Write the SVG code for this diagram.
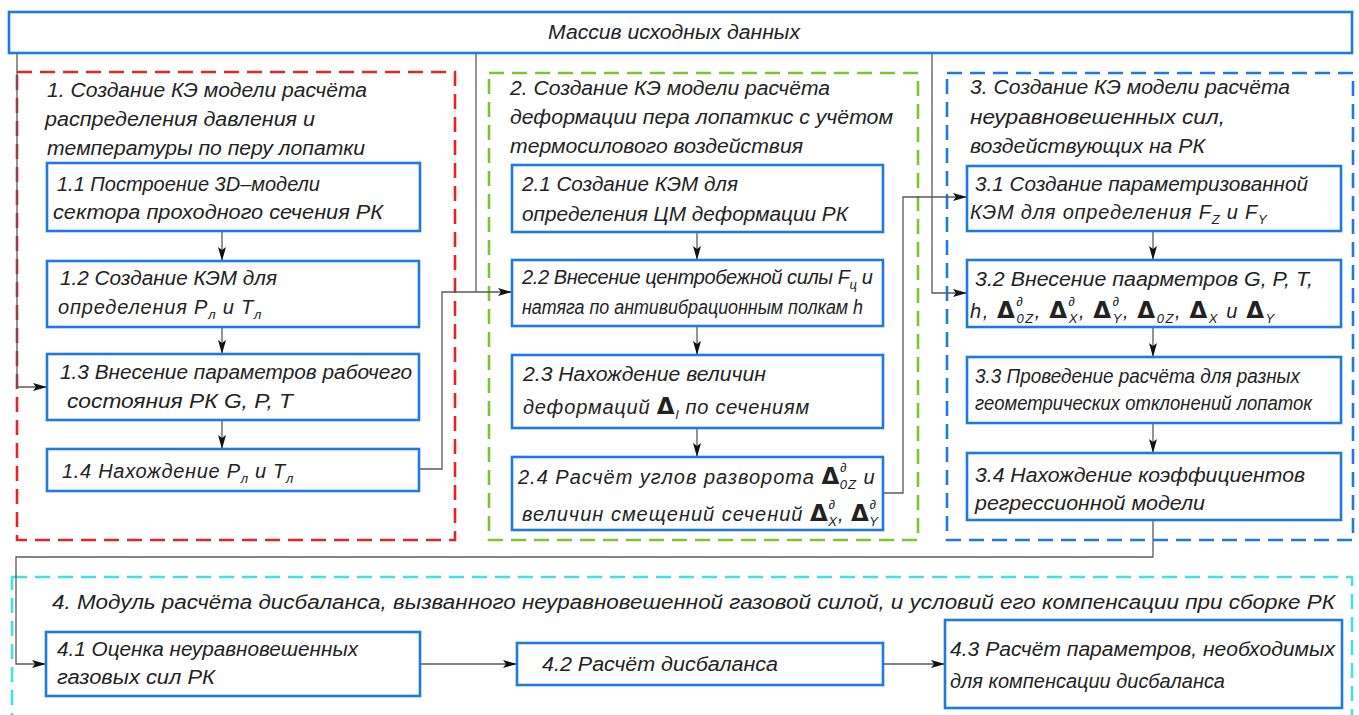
<svg xmlns="http://www.w3.org/2000/svg" width="1359" height="715" viewBox="0 0 1359 715">
<style>
.bg{fill:#ffffff}
.box{fill:#ffffff;stroke:#1f7ae0;stroke-width:2.6}
.grp{fill:none;stroke-width:2.6;stroke-dasharray:15 8}
.red{stroke:#e3242b}
.green{stroke:#7dc52e}
.blue{stroke:#1f7ae0}
.cyan{stroke:#45e0e4}
.t{font-family:"Liberation Sans",Arial,sans-serif;font-style:italic;font-size:20px;fill:#222222}
.d{font-family:"DejaVu Sans","Liberation Sans",sans-serif;font-style:normal;font-weight:bold;font-size:23px}
.sb{font-size:13px}
.con{fill:none;stroke:#5a5a5a;stroke-width:1.3}
.arr{fill:none;stroke:#5a5a5a;stroke-width:1.3;marker-end:url(#ah)}
</style>
<defs>
<marker id="ah" markerUnits="userSpaceOnUse" markerWidth="16" markerHeight="10" refX="14" refY="4" orient="auto">
<path d="M0,0 L14,4 L0,8 L3,4 Z" fill="#111111"/>
</marker>
</defs>
<rect class="bg" x="0" y="0" width="1359" height="715"/>

<g id="groups">
<rect id="g1" class="grp red" x="17" y="72" width="438" height="468"/>
<rect id="g2" class="grp green" x="489" y="73" width="429" height="467"/>
<rect id="g3" class="grp blue" x="947" y="73" width="406" height="467"/>
<rect id="g4" class="grp cyan" x="12" y="577" width="1340" height="150"/>
</g>

<g id="connectors">
<path class="arr" d="M17,53 V387 H47"/>
<path class="con" d="M476,53 V292"/>
<path class="arr" d="M420,469 H442 V292 H512"/>
<path class="arr" d="M932,53 V293 H967"/>
<path class="arr" d="M883,493 H903 V197 H967"/>
<path class="arr" d="M222,231 V261"/>
<path class="arr" d="M222,327 V354"/>
<path class="arr" d="M222,420 V449"/>
<path class="arr" d="M697,232 V260"/>
<path class="arr" d="M697,326 V355"/>
<path class="arr" d="M697,428 V457"/>
<path class="arr" d="M1153,231 V260"/>
<path class="arr" d="M1153,327 V357"/>
<path class="arr" d="M1153,423 V453"/>
<path class="arr" d="M1153,520 V557 H16 V664 H46"/>
<path class="arr" d="M420,664 H517"/>
<path class="arr" d="M883,664 H945"/>
</g>

<g id="top">
<rect class="box" x="9" y="12" width="1343" height="41"/>
<text class="t" x="548" y="39" textLength="252" lengthAdjust="spacingAndGlyphs">Массив исходных данных</text>
</g>

<g id="h1">
<text class="t" x="47" y="97" textLength="320" lengthAdjust="spacingAndGlyphs">1. Создание КЭ модели расчёта</text>
<text class="t" x="45" y="126" textLength="270" lengthAdjust="spacingAndGlyphs">распределения давления и</text>
<text class="t" x="47" y="155" textLength="318" lengthAdjust="spacingAndGlyphs">температуры по перу лопатки</text>
</g>
<g id="n11">
<rect class="box" x="47" y="163" width="373" height="68"/>
<text class="t" x="57" y="191" textLength="263" lengthAdjust="spacingAndGlyphs">1.1 Построение 3D–модели</text>
<text class="t" x="53" y="219" textLength="330" lengthAdjust="spacingAndGlyphs">сектора проходного сечения РК</text>
</g>
<g id="n12">
<rect class="box" x="47" y="261" width="372" height="66"/>
<text class="t" x="60" y="285" textLength="217" lengthAdjust="spacingAndGlyphs">1.2 Создание КЭМ для</text>
<text class="t" x="58" y="314" letter-spacing="0.8">определения P<tspan class="sb" dy="5">л</tspan><tspan dy="-5">  и  T</tspan><tspan class="sb" dy="5">л</tspan></text>
</g>
<g id="n13">
<rect class="box" x="47" y="354" width="372" height="66"/>
<text class="t" x="60" y="379" textLength="352" lengthAdjust="spacingAndGlyphs">1.3 Внесение параметров рабочего</text>
<text class="t" x="67" y="408" textLength="226" lengthAdjust="spacingAndGlyphs">состояния  РК G, P, T</text>
</g>
<g id="n14">
<rect class="box" x="47" y="449" width="372" height="42"/>
<text class="t" x="62" y="478" letter-spacing="0.7">1.4 Нахождение P<tspan class="sb" dy="5">л</tspan><tspan dy="-5">  и  T</tspan><tspan class="sb" dy="5">л</tspan></text>
</g>

<g id="h2">
<text class="t" x="510" y="95" textLength="320" lengthAdjust="spacingAndGlyphs">2. Создание КЭ модели расчёта</text>
<text class="t" x="510" y="124" textLength="383" lengthAdjust="spacingAndGlyphs">деформации пера лопаткис с учётом</text>
<text class="t" x="510" y="153" textLength="293" lengthAdjust="spacingAndGlyphs">термосилового воздействия</text>
</g>
<g id="n21">
<rect class="box" x="512" y="165" width="371" height="67"/>
<text class="t" x="522" y="191" textLength="216" lengthAdjust="spacingAndGlyphs">2.1 Создание КЭМ для</text>
<text class="t" x="522" y="221" textLength="326" lengthAdjust="spacingAndGlyphs">определения ЦМ деформации РК</text>
</g>
<g id="n22">
<rect class="box" x="512" y="260" width="371" height="66"/>
<text class="t" x="522" y="284" letter-spacing="-0.4">2.2 Внесение центробежной силы F<tspan class="sb" dy="5">ц</tspan><tspan dy="-5">  и</tspan></text>
<text class="t" x="522" y="314" textLength="341" lengthAdjust="spacingAndGlyphs">натяга по антивибрационным полкам h</text>
</g>
<g id="n23">
<rect class="box" x="512" y="355" width="371" height="73"/>
<text class="t" x="523" y="381" textLength="243" lengthAdjust="spacingAndGlyphs">2.3 Нахождение величин</text>
<text class="t" x="523" y="414" letter-spacing="0.8">деформаций <tspan class="d">Δ</tspan><tspan class="sb" dy="5">l</tspan><tspan dy="-5"> по сечениям</tspan></text>
</g>
<g id="n24">
<rect class="box" x="512" y="457" width="371" height="73"/>
<text class="t" x="518" y="484" font-size="21" letter-spacing="1">2.4 Расчёт углов разворота <tspan class="d">Δ</tspan><tspan class="sb" dy="-12">∂</tspan><tspan class="sb" dx="-8" dy="17">0Z</tspan><tspan dy="-5"> и</tspan></text>
<text class="t" x="522" y="521" font-size="21" letter-spacing="1">величин смещений сечений <tspan class="d">Δ</tspan><tspan class="sb" dy="-12">∂</tspan><tspan class="sb" dx="-8" dy="17">X</tspan><tspan dy="-5">, </tspan><tspan class="d">Δ</tspan><tspan class="sb" dy="-12">∂</tspan><tspan class="sb" dx="-8" dy="17">Y</tspan></text>
</g>

<g id="h3">
<text class="t" x="970" y="94" textLength="320" lengthAdjust="spacingAndGlyphs">3. Создание КЭ модели расчёта</text>
<text class="t" x="970" y="124" textLength="255" lengthAdjust="spacingAndGlyphs">неуравновешенных сил,</text>
<text class="t" x="970" y="153" textLength="235" lengthAdjust="spacingAndGlyphs">воздействующих на РК</text>
</g>
<g id="n31">
<rect class="box" x="967" y="166" width="374" height="65"/>
<text class="t" x="975" y="191" textLength="333" lengthAdjust="spacingAndGlyphs">3.1 Создание параметризованной</text>
<text class="t" x="970" y="219" letter-spacing="0.8">КЭМ для определения F<tspan class="sb" dy="5">Z</tspan><tspan dy="-5">  и  F</tspan><tspan class="sb" dy="5">Y</tspan></text>
</g>
<g id="n32">
<rect class="box" x="967" y="260" width="374" height="67"/>
<text class="t" x="975" y="286" textLength="338" lengthAdjust="spacingAndGlyphs">3.2 Внесение паарметров G, P, T,</text>
<text class="t" x="970" y="318" letter-spacing="1.6">h, <tspan class="d">Δ</tspan><tspan class="sb" dy="-12">∂</tspan><tspan class="sb" dx="-8" dy="17">0Z</tspan><tspan dy="-5">, </tspan><tspan class="d">Δ</tspan><tspan class="sb" dy="-12">∂</tspan><tspan class="sb" dx="-8" dy="17">X</tspan><tspan dy="-5">, </tspan><tspan class="d">Δ</tspan><tspan class="sb" dy="-12">∂</tspan><tspan class="sb" dx="-8" dy="17">Y</tspan><tspan dy="-5">, </tspan><tspan class="d">Δ</tspan><tspan class="sb" dy="5">0Z</tspan><tspan dy="-5">, </tspan><tspan class="d">Δ</tspan><tspan class="sb" dy="5">X</tspan><tspan dy="-5"> и </tspan><tspan class="d">Δ</tspan><tspan class="sb" dy="5">Y</tspan></text>
</g>
<g id="n33">
<rect class="box" x="967" y="357" width="374" height="66"/>
<text class="t" x="975" y="383" textLength="325" lengthAdjust="spacingAndGlyphs">3.3 Проведение расчёта для разных</text>
<text class="t" x="975" y="410" textLength="337" lengthAdjust="spacingAndGlyphs">геометрических отклонений лопаток</text>
</g>
<g id="n34">
<rect class="box" x="967" y="453" width="374" height="67"/>
<text class="t" x="975" y="482" textLength="330" lengthAdjust="spacingAndGlyphs">3.4 Нахождение коэффициентов</text>
<text class="t" x="975" y="510" textLength="230" lengthAdjust="spacingAndGlyphs">регрессионной модели</text>
</g>

<g id="h4">
<text class="t" x="52" y="609" textLength="1283" lengthAdjust="spacingAndGlyphs">4. Модуль расчёта дисбаланса, вызванного неуравновешенной газовой силой, и условий его компенсации при сборке РК</text>
</g>
<g id="n41">
<rect class="box" x="46" y="632" width="374" height="64"/>
<text class="t" x="57" y="656" textLength="301" lengthAdjust="spacingAndGlyphs">4.1 Оценка неуравновешенных</text>
<text class="t" x="57" y="684" textLength="158" lengthAdjust="spacingAndGlyphs">газовых сил РК</text>
</g>
<g id="n42">
<rect class="box" x="517" y="643" width="366" height="42"/>
<text class="t" x="542" y="671" textLength="236" lengthAdjust="spacingAndGlyphs">4.2 Расчёт дисбаланса</text>
</g>
<g id="n43">
<rect class="box" x="945" y="620" width="397" height="88"/>
<text class="t" x="950" y="656" textLength="385" lengthAdjust="spacingAndGlyphs">4.3 Расчёт параметров, необходимых</text>
<text class="t" x="950" y="688" textLength="275" lengthAdjust="spacingAndGlyphs">для компенсации дисбаланса</text>
</g>
</svg>
